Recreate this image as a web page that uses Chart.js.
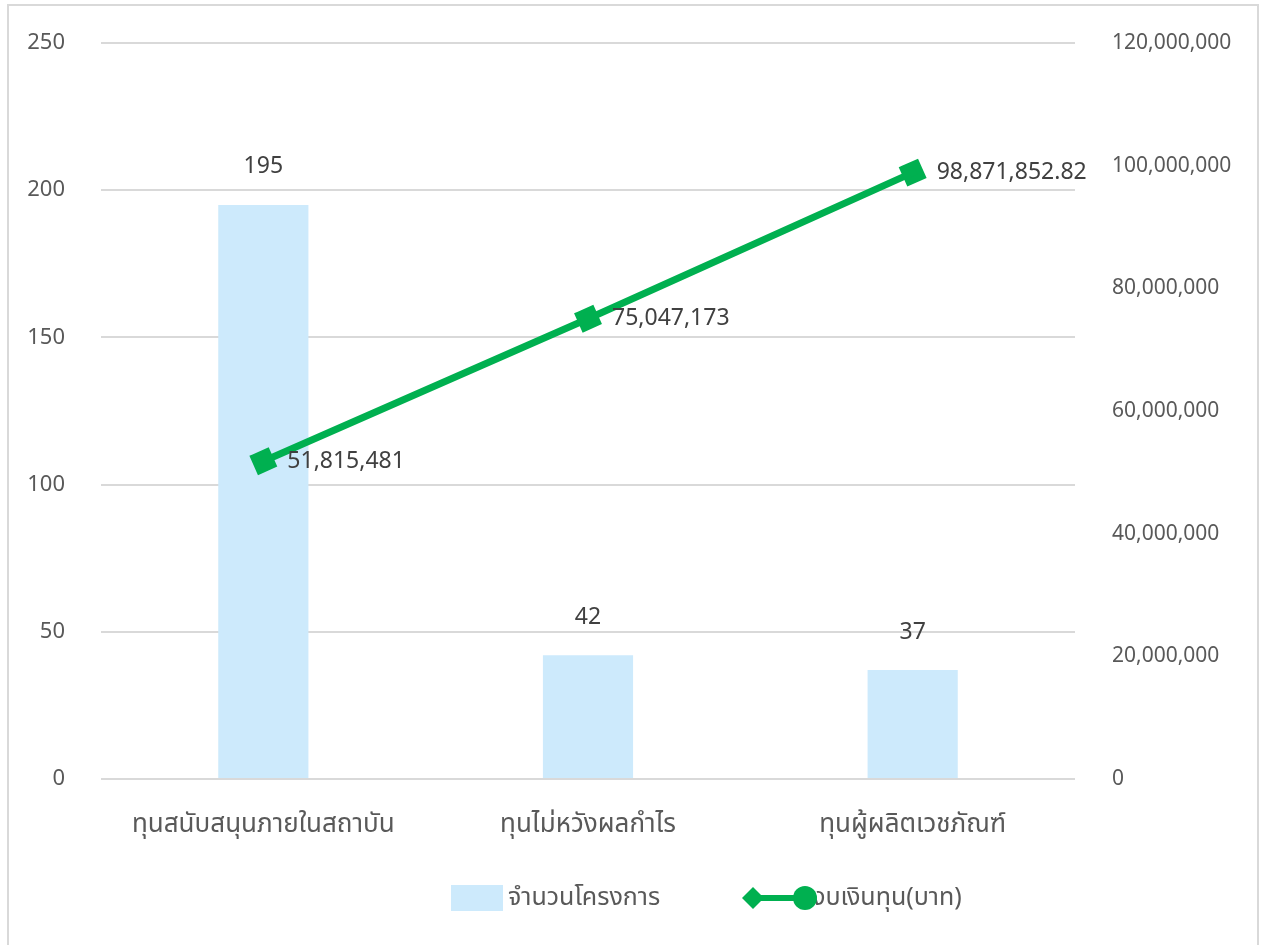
<!DOCTYPE html>
<html>
<head>
<meta charset="utf-8">
<script src="https://cdn.jsdelivr.net/npm/chart.js@4"></script>
<style>
  html, body { margin: 0; padding: 0; background: #fff; }
  #wrap { position: relative; width: 1265px; height: 945px; }
  #frame { position: absolute; left: 7px; top: 4px; width: 1252px; height: 960px; border: 2px solid #d9d9d9; box-sizing: border-box; }
  canvas { position: absolute; left: 0; top: 0; }
</style>
</head>
<body>
<div id="wrap">
  <div id="frame"></div>
  <canvas id="chart_tun" width="1265" height="945"></canvas>
</div>
<script>
const categories = ["ทุนสนับสนุนภายในสถาบัน", "ทุนไม่หวังผลกำไร", "ทุนผู้ผลิตเวชภัณฑ์"];
const jumnuan_project = [195, 42, 37];
const ngob_ngoentun = [51815481, 75047173, 98871852.82];
const ngob_labels = ["51,815,481", "75,047,173", "98,871,852.82"];
const barLegend = "จำนวนโครงการ";
const lineLegend = "งบเงินทุน(บาท)";

const FONT = '"Noto Sans", "Noto Sans Thai", "DejaVu Sans", sans-serif';
const GREEN = '#00b050';
const BLUE = '#cdeafc';

// labels on bars and points
const valueLabels = {
    id: 'valueLabels',
    afterDatasetsDraw(chart) {
        const ctx = chart.ctx;
        ctx.save();
        ctx.font = '23px ' + FONT;
        ctx.fillStyle = '#404040';
        ctx.textBaseline = 'middle';
        chart.getDatasetMeta(1).data.forEach((bar, i) => {
            ctx.textAlign = 'center';
            ctx.fillText(String(jumnuan_project[i]), bar.x, bar.y - 38);
        });
        chart.getDatasetMeta(0).data.forEach((pt, i) => {
            ctx.textAlign = 'left';
            ctx.fillText(ngob_labels[i], pt.x + 24, pt.y);
        });
        ctx.restore();
    }
};

// legend drawn by hand (excel style)
const excelLegend = {
    id: 'excelLegend',
    afterDraw(chart) {
        const ctx = chart.ctx;
        const y = 898;
        ctx.save();
        ctx.fillStyle = BLUE;
        ctx.fillRect(451, 885, 52, 26);
        ctx.font = '25px ' + FONT;
        ctx.fillStyle = '#595959';
        ctx.textBaseline = 'middle';
        ctx.textAlign = 'left';
        ctx.fillText(barLegend, 508, y);
        ctx.fillText(lineLegend, 812, y);
        ctx.strokeStyle = GREEN;
        ctx.lineWidth = 6;
        ctx.beginPath();
        ctx.moveTo(753, y);
        ctx.lineTo(805, y);
        ctx.stroke();
        ctx.fillStyle = GREEN;
        ctx.beginPath();
        ctx.moveTo(753, y - 11);
        ctx.lineTo(764, y);
        ctx.lineTo(753, y + 11);
        ctx.lineTo(742, y);
        ctx.closePath();
        ctx.fill();
        ctx.beginPath();
        ctx.arc(805, y, 12, 0, Math.PI * 2);
        ctx.fill();
        ctx.restore();
    }
};

const noPad = s => { s.paddingTop = 0; s.paddingBottom = 0; };

const ctx = document.getElementById("chart_tun").getContext("2d");
new Chart(ctx, {
    type: 'bar',
    data: {
        labels: categories,
        datasets: [{
            type: 'line',
            label: lineLegend,
            data: ngob_ngoentun,
            yAxisID: 'y2',
            borderColor: GREEN,
            backgroundColor: GREEN,
            borderWidth: 7,
            pointStyle: 'rect',
            pointRotation: -24,
            pointRadius: 10,
            pointHoverRadius: 10,
            order: 0
        }, {
            label: barLegend,
            data: jumnuan_project,
            yAxisID: 'y',
            backgroundColor: BLUE,
            categoryPercentage: 0.55,
            barPercentage: 0.505,
            order: 1
        }]
    },
    options: {
        responsive: false,
        animation: false,
        layout: { padding: { top: 43, left: 0, right: 0, bottom: 0 } },
        plugins: {
            legend: { display: false },
            tooltip: { enabled: false }
        },
        scales: {
            x: {
                grid: { display: false, drawTicks: false },
                border: { display: false },
                ticks: { color: '#595959', font: { size: 26, family: FONT }, padding: 30, maxRotation: 0 },
                afterFit: s => { s.height = 166; s.paddingLeft = 0; s.paddingRight = 0; }
            },
            y: {
                position: 'left',
                min: 0, max: 250,
                ticks: { stepSize: 50, color: '#595959', font: { size: 22, family: FONT }, padding: 36 },
                grid: { color: '#d9d9d9', lineWidth: 2, drawTicks: false },
                border: { display: false },
                afterFit: s => { s.width = 101; noPad(s); }
            },
            y2: {
                position: 'right',
                min: 0, max: 120000000,
                ticks: {
                    stepSize: 20000000, color: '#595959', font: { size: 21, family: FONT }, padding: 37,
                    callback: v => v.toLocaleString('en-US')
                },
                grid: { display: false, drawTicks: false },
                border: { display: false },
                afterFit: s => { s.width = 190; noPad(s); }
            }
        }
    },
    plugins: [valueLabels, excelLegend]
});
</script>
</body>
</html>
